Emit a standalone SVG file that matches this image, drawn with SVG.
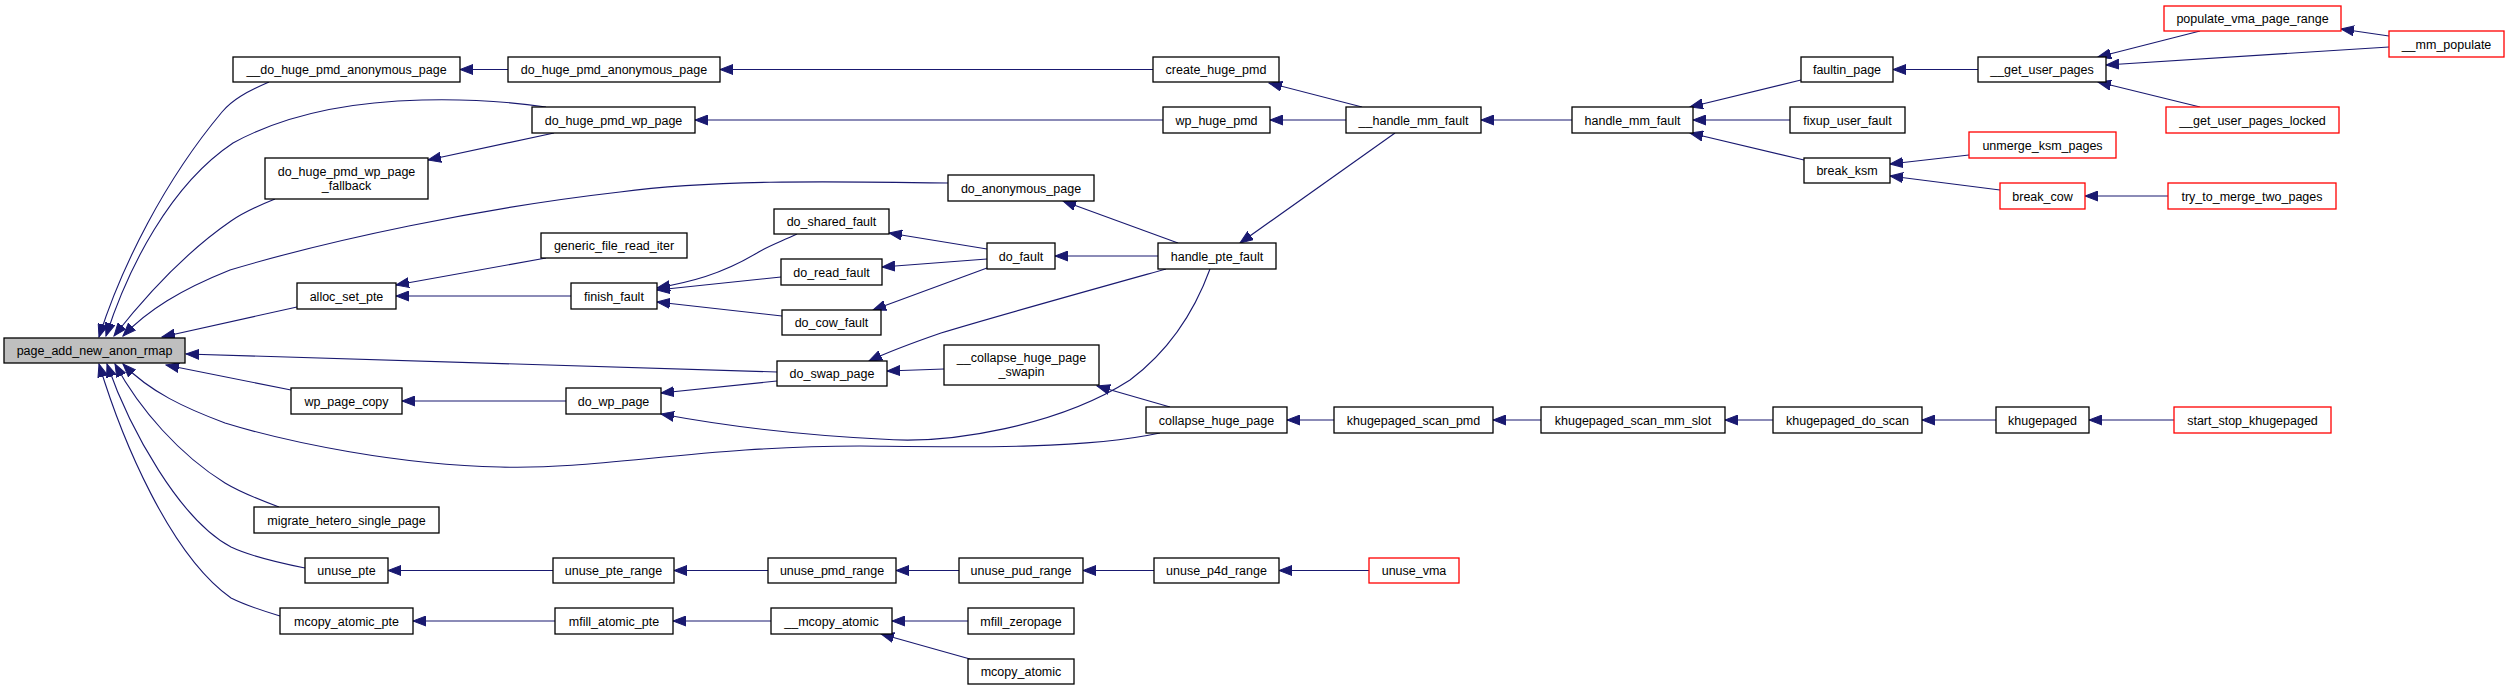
<svg xmlns="http://www.w3.org/2000/svg" width="2509" height="691" viewBox="0 0 2509 691">
<defs>
<marker id="a" markerUnits="userSpaceOnUse" markerWidth="14" markerHeight="11" viewBox="0 0 14 10" refX="13" refY="5" orient="auto"><path d="M0,0 L13,5 L0,10 z" fill="#191970" stroke="#191970" stroke-width="1"/></marker>
</defs>
<style>
.node rect{fill:#ffffff;stroke:#000000;stroke-width:1.3}
.node.red rect{stroke:#ff0000}
.node.root rect{fill:#bfbfbf}
.node text{font-family:"Liberation Sans",Arial,Helvetica,sans-serif;font-size:12.5px;text-anchor:middle;fill:#000000}
.edges path{fill:none;stroke:#191970;stroke-width:1.1;marker-end:url(#a)}
</style>
<rect x="0" y="0" width="2509" height="691" fill="#ffffff"/>
<g class="edges" id="edges">
<path d="M269,82 C246,92 232,100 222,112 C165,180 122,265 99,337"/>
<path d="M546,107 C505,101 465,99 422,100 C335,102 275,120 233,143 C170,185 128,268 106,336"/>
<path d="M275,199 C255,207 241,214 231,221 C180,256 140,303 114,336"/>
<path d="M948,183 C820,181 710,180 620,192 C480,208 330,240 230,270 C180,290 148,310 123,336"/>
<path d="M297,307 L162,337"/>
<path d="M777,372 L186,354"/>
<path d="M291,390 L166,365"/>
<path d="M1160,433 C1080,450 960,447 860,446 C700,446 600,470 500,467 C400,465 290,443 225,423 C185,408 150,392 123,364"/>
<path d="M279,507 C260,500 240,492 225,483 C180,455 140,410 115,364"/>
<path d="M305,568 C280,563 250,556 231,547 C180,520 130,430 107,364"/>
<path d="M280,616 C260,610 245,605 231,598 C170,555 122,440 99,364"/>
<path d="M508,69.5 L460,69.5"/>
<path d="M1153,69.5 L720,69.5"/>
<path d="M1163,120 L695,120"/>
<path d="M554,133 L428,160"/>
<path d="M1362,107 L1269,83"/>
<path d="M1346,120 L1270,120"/>
<path d="M1395,133 L1240,243"/>
<path d="M1572,120 L1481,120"/>
<path d="M1801,80 L1690,107"/>
<path d="M1790,120 L1693,120"/>
<path d="M1804,160 L1690,133"/>
<path d="M1978,69.5 L1893,69.5"/>
<path d="M2200,31 L2098,57"/>
<path d="M2389,36 L2341,29"/>
<path d="M2389,47 L2106,65"/>
<path d="M2200,107 L2098,82"/>
<path d="M1969,155 L1890,164"/>
<path d="M2000,190 L1890,176"/>
<path d="M2168,196 L2085,196"/>
<path d="M1178,243 L1063,201"/>
<path d="M1158,256 L1055,256"/>
<path d="M1166,269 C1080,293 990,318 941,333 C915,342 890,351 869,361"/>
<path d="M1210,269 C1195,310 1170,350 1130,380 C1060,425 950,445 880,439 C800,435 720,425 661,414"/>
<path d="M987,249 L889,233"/>
<path d="M987,259 L882,267"/>
<path d="M987,268 L873,310"/>
<path d="M797,234 C780,242 768,246 757,253 C720,275 690,282 657,288"/>
<path d="M781,277 L657,290"/>
<path d="M782,316 L657,302"/>
<path d="M546,258 L396,285"/>
<path d="M571,296 L396,296"/>
<path d="M566,401 L402,401"/>
<path d="M777,381 L661,393"/>
<path d="M944,369 L887,371"/>
<path d="M1170,407 L1097,386"/>
<path d="M1334,420 L1287,420"/>
<path d="M1541,420 L1493,420"/>
<path d="M1773,420 L1725,420"/>
<path d="M1996,420 L1922,420"/>
<path d="M2174,420 L2089,420"/>
<path d="M553,570.5 L388,570.5"/>
<path d="M768,570.5 L674,570.5"/>
<path d="M959,570.5 L896,570.5"/>
<path d="M1154,570.5 L1083,570.5"/>
<path d="M1369,570.5 L1279,570.5"/>
<path d="M555,621 L413,621"/>
<path d="M771,621 L673,621"/>
<path d="M968,621 L892,621"/>
<path d="M970,659 L881,634"/>
</g>
<g class="node root" id="n_page_add_new_anon_rmap"><rect x="4" y="338" width="181" height="25"/><text x="94.5" y="355">page_add_new_anon_rmap</text></g>
<g class="node" id="n___do_huge_pmd_anonymous_page"><rect x="233" y="57" width="227" height="25"/><text x="346.5" y="74">__do_huge_pmd_anonymous_page</text></g>
<g class="node" id="n_do_huge_pmd_anonymous_page"><rect x="508" y="57" width="212" height="25"/><text x="614" y="74">do_huge_pmd_anonymous_page</text></g>
<g class="node" id="n_create_huge_pmd"><rect x="1153" y="57" width="126" height="25"/><text x="1216" y="74">create_huge_pmd</text></g>
<g class="node" id="n_do_huge_pmd_wp_page"><rect x="532" y="107" width="163" height="26"/><text x="613.5" y="124.5">do_huge_pmd_wp_page</text></g>
<g class="node" id="n_wp_huge_pmd"><rect x="1163" y="107" width="107" height="26"/><text x="1216.5" y="124.5">wp_huge_pmd</text></g>
<g class="node" id="n___handle_mm_fault"><rect x="1346" y="107" width="135" height="26"/><text x="1413.5" y="124.5">__handle_mm_fault</text></g>
<g class="node" id="n_handle_mm_fault"><rect x="1572" y="107" width="121" height="26"/><text x="1632.5" y="124.5">handle_mm_fault</text></g>
<g class="node" id="n_faultin_page"><rect x="1801" y="57" width="92" height="25"/><text x="1847" y="74">faultin_page</text></g>
<g class="node" id="n_fixup_user_fault"><rect x="1790" y="107" width="115" height="26"/><text x="1847.5" y="124.5">fixup_user_fault</text></g>
<g class="node" id="n_break_ksm"><rect x="1804" y="158" width="86" height="25"/><text x="1847" y="175">break_ksm</text></g>
<g class="node" id="n___get_user_pages"><rect x="1978" y="57" width="128" height="25"/><text x="2042" y="74">__get_user_pages</text></g>
<g class="node red" id="n_populate_vma_page_range"><rect x="2164" y="6" width="177" height="25"/><text x="2252.5" y="23">populate_vma_page_range</text></g>
<g class="node red" id="n___mm_populate"><rect x="2389" y="31" width="115" height="26"/><text x="2446.5" y="48.5">__mm_populate</text></g>
<g class="node red" id="n___get_user_pages_locked"><rect x="2166" y="107" width="173" height="26"/><text x="2252.5" y="124.5">__get_user_pages_locked</text></g>
<g class="node red" id="n_unmerge_ksm_pages"><rect x="1969" y="132" width="147" height="26"/><text x="2042.5" y="149.5">unmerge_ksm_pages</text></g>
<g class="node red" id="n_break_cow"><rect x="2000" y="183" width="85" height="26"/><text x="2042.5" y="200.5">break_cow</text></g>
<g class="node red" id="n_try_to_merge_two_pages"><rect x="2168" y="183" width="168" height="26"/><text x="2252" y="200.5">try_to_merge_two_pages</text></g>
<g class="node" id="n_do_huge_pmd_wp_page_fallback"><rect x="265" y="158" width="163" height="41"/><text x="346.5" y="175.5">do_huge_pmd_wp_page</text><text x="346.5" y="189.5">_fallback</text></g>
<g class="node" id="n_do_anonymous_page"><rect x="948" y="175" width="146" height="26"/><text x="1021" y="192.5">do_anonymous_page</text></g>
<g class="node" id="n_do_shared_fault"><rect x="774" y="209" width="115" height="25"/><text x="831.5" y="226">do_shared_fault</text></g>
<g class="node" id="n_generic_file_read_iter"><rect x="541" y="233" width="146" height="25"/><text x="614" y="250">generic_file_read_iter</text></g>
<g class="node" id="n_do_read_fault"><rect x="781" y="259" width="101" height="26"/><text x="831.5" y="276.5">do_read_fault</text></g>
<g class="node" id="n_do_fault"><rect x="987" y="243" width="68" height="26"/><text x="1021" y="260.5">do_fault</text></g>
<g class="node" id="n_handle_pte_fault"><rect x="1158" y="243" width="118" height="26"/><text x="1217" y="260.5">handle_pte_fault</text></g>
<g class="node" id="n_alloc_set_pte"><rect x="297" y="283" width="99" height="26"/><text x="346.5" y="300.5">alloc_set_pte</text></g>
<g class="node" id="n_finish_fault"><rect x="571" y="283" width="86" height="26"/><text x="614" y="300.5">finish_fault</text></g>
<g class="node" id="n_do_cow_fault"><rect x="782" y="310" width="99" height="25"/><text x="831.5" y="327">do_cow_fault</text></g>
<g class="node" id="n_do_swap_page"><rect x="777" y="361" width="110" height="25"/><text x="832" y="378">do_swap_page</text></g>
<g class="node" id="n___collapse_huge_page_swapin"><rect x="944" y="345" width="155" height="40"/><text x="1021.5" y="361.5">__collapse_huge_page</text><text x="1021.5" y="376">_swapin</text></g>
<g class="node" id="n_wp_page_copy"><rect x="291" y="388" width="111" height="26"/><text x="346.5" y="405.5">wp_page_copy</text></g>
<g class="node" id="n_do_wp_page"><rect x="566" y="388" width="95" height="26"/><text x="613.5" y="405.5">do_wp_page</text></g>
<g class="node" id="n_collapse_huge_page"><rect x="1146" y="407" width="141" height="26"/><text x="1216.5" y="424.5">collapse_huge_page</text></g>
<g class="node" id="n_khugepaged_scan_pmd"><rect x="1334" y="407" width="159" height="26"/><text x="1413.5" y="424.5">khugepaged_scan_pmd</text></g>
<g class="node" id="n_khugepaged_scan_mm_slot"><rect x="1541" y="407" width="184" height="26"/><text x="1633" y="424.5">khugepaged_scan_mm_slot</text></g>
<g class="node" id="n_khugepaged_do_scan"><rect x="1773" y="407" width="149" height="26"/><text x="1847.5" y="424.5">khugepaged_do_scan</text></g>
<g class="node" id="n_khugepaged"><rect x="1996" y="407" width="93" height="26"/><text x="2042.5" y="424.5">khugepaged</text></g>
<g class="node red" id="n_start_stop_khugepaged"><rect x="2174" y="407" width="157" height="26"/><text x="2252.5" y="424.5">start_stop_khugepaged</text></g>
<g class="node" id="n_migrate_hetero_single_page"><rect x="254" y="507" width="185" height="26"/><text x="346.5" y="524.5">migrate_hetero_single_page</text></g>
<g class="node" id="n_unuse_pte"><rect x="305" y="558" width="83" height="25"/><text x="346.5" y="575">unuse_pte</text></g>
<g class="node" id="n_unuse_pte_range"><rect x="553" y="558" width="121" height="25"/><text x="613.5" y="575">unuse_pte_range</text></g>
<g class="node" id="n_unuse_pmd_range"><rect x="768" y="558" width="128" height="25"/><text x="832" y="575">unuse_pmd_range</text></g>
<g class="node" id="n_unuse_pud_range"><rect x="959" y="558" width="124" height="25"/><text x="1021" y="575">unuse_pud_range</text></g>
<g class="node" id="n_unuse_p4d_range"><rect x="1154" y="558" width="125" height="25"/><text x="1216.5" y="575">unuse_p4d_range</text></g>
<g class="node red" id="n_unuse_vma"><rect x="1369" y="558" width="90" height="25"/><text x="1414" y="575">unuse_vma</text></g>
<g class="node" id="n_mcopy_atomic_pte"><rect x="280" y="608" width="133" height="26"/><text x="346.5" y="625.5">mcopy_atomic_pte</text></g>
<g class="node" id="n_mfill_atomic_pte"><rect x="555" y="608" width="118" height="26"/><text x="614" y="625.5">mfill_atomic_pte</text></g>
<g class="node" id="n___mcopy_atomic"><rect x="771" y="608" width="121" height="26"/><text x="831.5" y="625.5">__mcopy_atomic</text></g>
<g class="node" id="n_mfill_zeropage"><rect x="968" y="608" width="106" height="26"/><text x="1021" y="625.5">mfill_zeropage</text></g>
<g class="node" id="n_mcopy_atomic"><rect x="968" y="659" width="106" height="25"/><text x="1021" y="676">mcopy_atomic</text></g>
</svg>
